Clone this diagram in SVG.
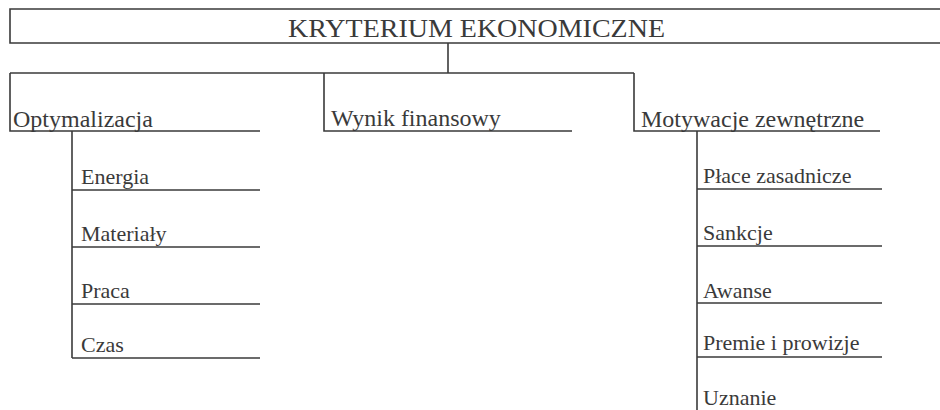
<svg xmlns="http://www.w3.org/2000/svg" width="940" height="410" viewBox="0 0 940 410">
  <style>
    .ln { fill: none; stroke: #3a3a3a; stroke-width: 1.6; }
    .t0 { font-family: "Liberation Serif", "Times New Roman", serif; font-size: 26px; fill: #3a3a3a; }
    .t1 { font-family: "Liberation Serif", "Times New Roman", serif; font-size: 24px; fill: #3a3a3a; }
    .t2 { font-family: "Liberation Serif", "Times New Roman", serif; font-size: 22px; fill: #3a3a3a; }
  </style>
  <rect width="940" height="410" fill="#ffffff"/>

  <!-- root -->
  <g id="root">
    <path class="ln" d="M942 9 H10 V43 H942"/>
    <text class="t0" x="288" y="37" textLength="377" lengthAdjust="spacingAndGlyphs">KRYTERIUM EKONOMICZNE</text>
  </g>

  <!-- second level -->
  <g id="optymalizacja">
    <path class="ln" d="M10 73 V131 H260"/>
    <text class="t1" x="13" y="127">Optymalizacja</text>
  </g>
  <g id="wynik">
    <path class="ln" d="M324 73 V131 H572"/>
    <text class="t1" x="331" y="126">Wynik finansowy</text>
  </g>
  <g id="motywacje">
    <path class="ln" d="M634 73 V131 H880"/>
    <text class="t1" x="641" y="127">Motywacje zewnętrzne</text>
  </g>

  <!-- leaves under Optymalizacja -->
  <g id="energia"><path class="ln" d="M72 190 H260"/><text class="t2" x="81" y="184">Energia</text></g>
  <g id="materialy"><path class="ln" d="M72 247 H260"/><text class="t2" x="81" y="241">Materiały</text></g>
  <g id="praca"><path class="ln" d="M72 304 H260"/><text class="t2" x="81" y="298">Praca</text></g>
  <g id="czas"><path class="ln" d="M72 358 H260"/><text class="t2" x="81" y="352">Czas</text></g>

  <!-- leaves under Motywacje zewnętrzne -->
  <g id="place"><path class="ln" d="M697 189 H882"/><text class="t2" x="703" y="183">Płace zasadnicze</text></g>
  <g id="sankcje"><path class="ln" d="M697 246 H882"/><text class="t2" x="703" y="240">Sankcje</text></g>
  <g id="awanse"><path class="ln" d="M697 303 H882"/><text class="t2" x="703" y="298">Awanse</text></g>
  <g id="premie"><path class="ln" d="M697 357 H882"/><text class="t2" x="703" y="350">Premie i prowizje</text></g>
  <g id="uznanie"><text class="t2" x="703" y="405">Uznanie</text></g>

  <!-- connectors -->
  <g id="connectors">
    <path class="ln" d="M448 43 V73"/>
    <path class="ln" d="M10 73 H634"/>
    <path class="ln" d="M72 131 V358"/>
    <path class="ln" d="M697 131 V410"/>
  </g>
</svg>
